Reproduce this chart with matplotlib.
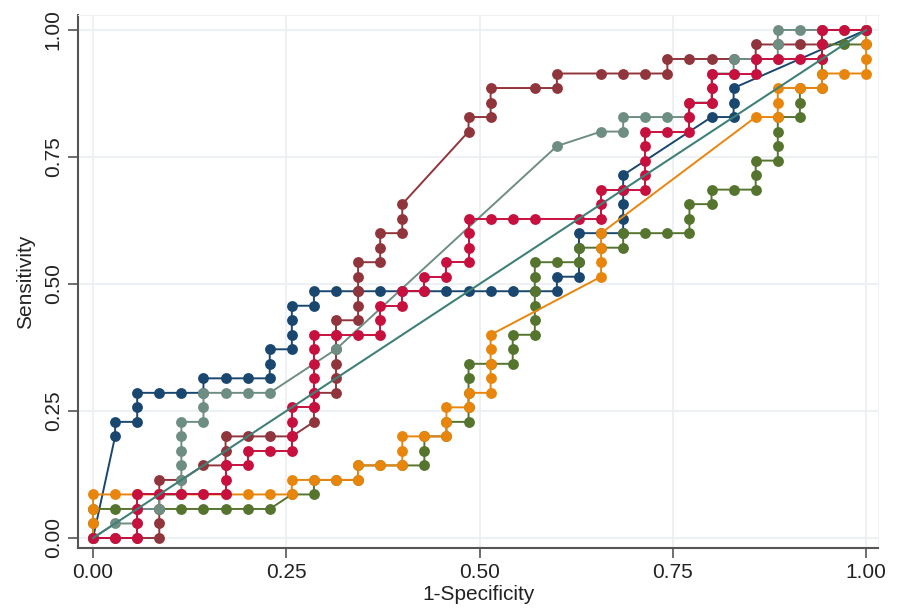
import matplotlib
matplotlib.use('Agg')
import matplotlib.pyplot as plt
import numpy as np

# ROC 曲线数据（单位：1/35）
n_neg = 35
n_pos = 35

navy_fp = [0, 1, 1, 2, 2, 2, 3, 4, 5, 5, 6, 7, 8, 8, 8, 9, 9, 9, 9, 10, 10, 11, 12, 13, 14, 15, 16, 17, 18, 19, 20, 21,
           21, 22, 22, 22, 22, 23, 24, 24, 24, 24, 24, 28, 29, 29, 29, 35]
navy_tp = [0, 7, 8, 8, 9, 10, 10, 10, 10, 11, 11, 11, 11, 12, 13, 13, 14, 15, 16, 16, 17, 17, 17, 17, 17, 17, 17, 17, 17, 17, 17, 17,
           18, 18, 19, 20, 21, 21, 21, 22, 23, 24, 25, 29, 29, 30, 31, 35]

maroon_fp = [0, 1, 2, 3, 3, 3, 3, 3, 4, 5, 6, 6, 6, 7, 8, 9, 10, 10, 10, 11, 11, 11, 11, 11, 11, 12, 12, 12, 12, 12, 13, 13, 13,
             14, 14, 14, 17, 17, 18, 18, 18, 20, 21, 21, 23, 24, 25, 26, 26, 27, 28, 29, 30, 30, 31, 32, 33, 33, 35]
maroon_tp = [0, 0, 0, 0, 1, 2, 3, 4, 4, 5, 5, 6, 7, 7, 7, 7, 8, 9, 10, 10, 11, 12, 13, 14, 15, 15, 16, 17, 18, 19, 19, 20, 21,
             21, 22, 23, 28, 29, 29, 30, 31, 31, 31, 32, 32, 32, 32, 32, 33, 33, 33, 33, 33, 34, 34, 34, 34, 35, 35]

green_fp = [0, 0, 0, 1, 2, 3, 4, 5, 6, 7, 8, 9, 10, 10, 11, 12, 12, 13, 14, 15, 15, 15, 16, 16, 17, 17, 17, 17, 17, 18, 19, 19,
            19, 20, 20, 20, 20, 20, 20, 21, 22, 22, 23, 24, 24, 25, 26, 27, 27, 27, 28, 28, 29, 30, 30, 30, 31, 31, 31, 31,
            32, 32, 32, 33, 33, 33, 33, 34, 35, 35]
green_tp = [0, 1, 2, 2, 2, 2, 2, 2, 2, 2, 2, 3, 3, 4, 4, 4, 5, 5, 5, 5, 6, 7, 7, 8, 8, 9, 10, 11, 12, 12, 12, 13,
            14, 14, 15, 16, 17, 18, 19, 19, 19, 20, 20, 20, 21, 21, 21, 21, 22, 23, 23, 24, 24, 24, 25, 26, 26, 27, 28, 29,
            29, 30, 31, 31, 32, 33, 34, 34, 34, 35]

orange_fp = [0, 0, 0, 0, 1, 2, 3, 4, 5, 6, 7, 8, 9, 9, 10, 11, 12, 12, 13, 14, 14, 14, 15, 16, 16, 16, 17, 17, 18, 18, 18,
             18, 18, 23, 23, 23, 23, 30, 31, 31, 31, 32, 33, 33, 34, 35, 35, 35, 35]
orange_tp = [0, 1, 2, 3, 3, 3, 3, 3, 3, 3, 3, 3, 3, 4, 4, 4, 4, 5, 5, 5, 6, 7, 7, 7, 8, 9, 9, 10, 10, 11, 12,
             13, 14, 18, 19, 20, 21, 29, 29, 30, 31, 31, 31, 32, 32, 32, 33, 34, 35]

teal_fp = [0, 1, 2, 2, 3, 3, 4, 4, 4, 4, 4, 4, 5, 5, 5, 6, 7, 8, 11, 21, 23, 24, 24, 25, 26, 27, 27, 28, 28, 28, 29, 29,
           30, 31, 31, 31, 32, 33, 34, 35]
teal_tp = [0, 1, 1, 2, 2, 3, 3, 4, 5, 6, 7, 8, 8, 9, 10, 10, 10, 10, 13, 27, 28, 28, 29, 29, 29, 29, 30, 30, 31, 32, 32, 33,
           33, 33, 34, 35, 35, 35, 35, 35]

cran_fp = [0, 1, 2, 2, 2, 2, 3, 4, 5, 6, 6, 6, 7, 7, 8, 9, 9, 9, 9, 10, 10, 10, 10, 10, 10, 11, 12, 13, 13, 13, 14, 14,
           15, 15, 16, 16, 17, 17, 17, 17, 18, 19, 20, 22, 23, 23, 23, 24, 25, 25, 25, 25, 25, 26, 27, 27, 27, 28, 28,
           28, 29, 30, 30, 31, 32, 33, 33, 33, 34, 35]
cran_tp = [0, 0, 0, 1, 2, 3, 3, 3, 3, 3, 4, 5, 5, 6, 6, 6, 7, 8, 9, 9, 10, 11, 12, 13, 14, 14, 14, 14, 15, 16, 16, 17,
           17, 18, 18, 19, 19, 20, 21, 22, 22, 22, 22, 22, 22, 23, 24, 24, 24, 25, 26, 27, 28, 28, 28, 29, 30, 30, 31,
           32, 32, 32, 33, 33, 33, 33, 34, 35, 35, 35]

# 绘制顺序与颜色
series = [
    (navy_fp, navy_tp, '#1a476f'),
    (maroon_fp, maroon_tp, '#90353b'),
    (green_fp, green_tp, '#55752f'),
    (orange_fp, orange_tp, '#e8850c'),
    (teal_fp, teal_tp, '#6e8e84'),
    (cran_fp, cran_tp, '#c8103e'),
]

plt.rcParams['font.family'] = ['Liberation Sans Narrow', 'Liberation Sans', 'DejaVu Sans']

fig = plt.figure(figsize=(9, 6.11), dpi=100)
ax = fig.add_axes([0.0867, 0.1031, 0.889, 0.8724])

for k, (fp, tp, color) in enumerate(series):
    x = np.array(fp) / n_neg
    y = np.array(tp) / n_pos
    ax.plot(x, y, color=color, lw=1.4, marker='o', markersize=7.8,
            markeredgewidth=0, zorder=3 + k)

# 参考线
ax.plot([0, 1], [0, 1], color='#3f8078', lw=1.5, zorder=10)

ax.set_xlim(-0.0194, 1.0155)
ax.set_ylim(-0.0197, 1.0295)
ticks = [0, 0.25, 0.5, 0.75, 1.0]
ax.set_xticks(ticks)
ax.set_yticks(ticks)
ax.set_xticklabels(['0.00', '0.25', '0.50', '0.75', '1.00'], fontsize=15, color='#222222')
ax.set_yticklabels(['0.00', '0.25', '0.50', '0.75', '1.00'], fontsize=15, color='#222222',
                   rotation=90, va='center')
ax.tick_params(direction='out', length=7, width=1.2, color='#555555', pad=4)
ax.grid(True, color='#eaeff1', lw=1.2, zorder=0)
ax.set_axisbelow(True)

for s in ['top', 'right']:
    ax.spines[s].set_color('#f0f3f5')
for s in ['left', 'bottom']:
    ax.spines[s].set_color('#555555')
    ax.spines[s].set_linewidth(1.5)

ax.set_xlabel('1-Specificity', fontsize=15, color='#222222', labelpad=2)
ax.set_ylabel('Sensitivity', fontsize=15, color='#222222', labelpad=6)

fig.savefig('out.png', dpi=100)
